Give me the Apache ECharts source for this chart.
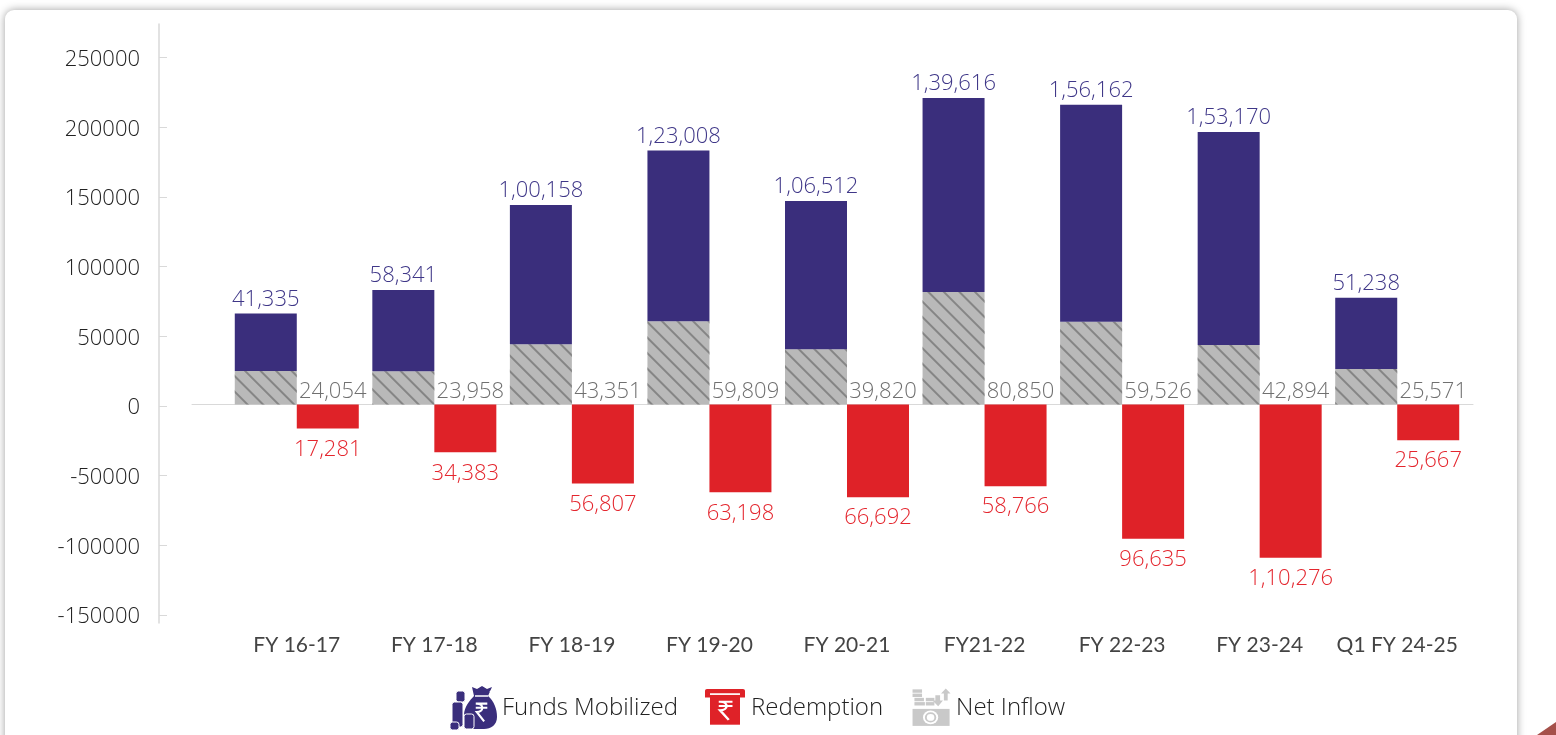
<!DOCTYPE html>
<html><head><meta charset="utf-8">
<style>
html,body{margin:0;padding:0;width:1556px;height:735px;overflow:hidden;background:#fff}
#card{position:absolute;left:5px;top:10px;width:1512px;height:800px;background:#fff;border-radius:9px;box-shadow:0 0 9px rgba(0,0,0,.38)}
#corner{position:absolute;left:1537px;top:722px;width:19px;height:13px;background:#a5504a;clip-path:polygon(100% 0,100% 100%,0 100%)}
#chart{position:absolute;left:0;top:0;width:1556px;height:735px}
</style>
<script src="https://cdn.jsdelivr.net/npm/echarts@6/dist/echarts.min.js"></script>
</head><body>
<div id="card"></div><div id="corner"></div><div id="chart"></div>
<script>
const categories=['FY 16-17','FY 17-18','FY 18-19','FY 19-20','FY 20-21','FY21-22','FY 22-23','FY 23-24','Q1 FY 24-25'];
const fundsMobilized=[41335,58341,100158,123008,106512,139616,156162,153170,51238];
const redemption=[-17281,-34383,-56807,-63198,-66692,-58766,-96635,-110276,-25667];
const netInflow=[24054,23958,43351,59809,39820,80850,59526,42894,25571];
const yTicks=[-150000,-100000,-50000,0,50000,100000,150000,200000,250000];
const legendNames=['Funds Mobilized','Redemption','Net Inflow'];

const svg=s=>'image://data:image/svg+xml,'+encodeURIComponent('<svg xmlns="http://www.w3.org/2000/svg" width="47" height="46" viewBox="0 0 47 46">'+s+'</svg>');
const P='#3a2e7c',R='#df2228',G='#c9c9c9';
const rupee=(x,y,k,c)=>`<g transform="translate(${x} ${y}) scale(${k})" fill="none" stroke="${c}" stroke-width="2"><path d="M-5-8H6M-5-4H6M-4-8C3-8 3 0-4 0L3 9"/></g>`;
const iconFunds=svg(`<path fill="${P}" d="M22 2l5 2 5-3 5 3 5-2-4 9c6 5 9 13 9 21 0 8-6 12-13 12H20L14 30c0-8 6-15 10-19z"/><path d="M25 11h13M40 6l4 5" stroke="#fff" stroke-width="1.3"/>`+
 rupee(31,27,1.05,'#fff')+
 `<g fill="${P}" stroke="#fff" stroke-width="1"><rect x="6" y="6" width="9" height="11" rx="2.5"/><rect x="2" y="17" width="11" height="25" rx="2.5"/><rect x="14" y="29" width="10" height="15" rx="2.5"/><rect x="0" y="37" width="9" height="8" rx="2.5"/></g>`);
const iconRedemption=svg(`<g transform="translate(5 2.3) scale(1 .85)"><path fill="${R}" d="M3 2h36q2 0 2 2v8h-5V8H6v4H1V4q0-2 2-2z"/><rect x="6" y="8" width="30" height="36" fill="${R}"/><rect x="6" y="7" width="30" height="2" fill="#fff"/>`+rupee(21,27,1.25,'#fff')+`</g>`);
const iconNet=svg(`<g transform="translate(7.5 3.5) scale(.95 .85)"><g fill="${G}"><rect x="1" y="1" width="10" height="4"/><rect x="1" y="6" width="10" height="4"/><rect x="3" y="11" width="10" height="4"/><rect x="3" y="16" width="11" height="4"/><rect x="15" y="11" width="9" height="4"/><rect x="15" y="16" width="9" height="4"/><rect x="1" y="24" width="39" height="20"/><path d="M25 8h5v6h3l-5 7-6-7h3zM31 6l5-6 5 6h-3v8h-4V6z"/></g><ellipse cx="20" cy="34" rx="8" ry="8" fill="#fff"/><circle cx="20" cy="34" r="5" fill="none" stroke="${G}" stroke-width="2"/></g>`);

function inr(v){
  const s=String(Math.abs(v));
  if(s.length<=3)return s;
  const tail=s.slice(-3);
  const head=s.slice(0,-3).replace(/\B(?=(\d{2})+$)/g,',');
  return head+','+tail;
}
const labelFont='"Open Sans"';
const tickAxisMin=-155800, tickAxisMax=274200;
const barAxisMin=-157194, barAxisMax=273741;
const chart=echarts.init(document.getElementById('chart'));
chart.setOption({
  animation:false,
  backgroundColor:'transparent',
  legend:{
    left:445,top:680,itemWidth:47,itemHeight:46,itemGap:21,
    textStyle:{fontFamily:labelFont,fontWeight:300,fontSize:24,color:'#222'},
    data:[{name:legendNames[0],icon:iconFunds},{name:legendNames[1],icon:iconRedemption},{name:legendNames[2],icon:iconNet}]
  },
  grid:[
    {left:228,width:1238,top:24,height:599},
    {left:192,width:1281,top:24,height:599}
  ],
  xAxis:[
    {type:'category',data:categories,gridIndex:0,
     axisLine:{show:false,onZero:false},axisTick:{show:false},
     axisLabel:{fontFamily:'Lato',fontSize:21,color:'#444',margin:12,interval:0}},
    {type:'category',data:categories,gridIndex:1,
     axisLine:{show:true,onZero:true,lineStyle:{color:'#d9d9d9',width:1}},axisTick:{show:false},axisLabel:{show:false}}
  ],
  yAxis:[
    {type:'value',gridIndex:0,min:tickAxisMin,max:tickAxisMax,position:'left',offset:69,
     splitLine:{show:false},
     axisLine:{show:true,onZero:false,lineStyle:{color:'#d9d9d9',width:1.5}},
     axisTick:{show:true,inside:true,length:8,customValues:yTicks,lineStyle:{color:'#d9d9d9',width:1}},
     axisLabel:{customValues:yTicks,fontFamily:labelFont,fontWeight:300,fontSize:22,color:'#222',margin:19,verticalAlign:'top',lineHeight:4,showMinLabel:true,showMaxLabel:true,formatter:v=>String(v)}},
    {type:'value',gridIndex:1,min:barAxisMin,max:barAxisMax,show:false},
    {type:'value',gridIndex:0,min:barAxisMin,max:barAxisMax,show:false}
  ],
  series:[
    {name:'Net Inflow',type:'bar',yAxisIndex:2,stack:'pos',barWidth:62,barGap:'0%',data:netInflow,z:3,
     itemStyle:{color:'#b9b9b9',decal:{symbol:'rect',color:'#858585',dashArrayX:[1,0],dashArrayY:[2,9],rotation:Math.PI/4,symbolSize:1}},
     label:{show:true,position:'insideBottom',distance:2,offset:[67,0],fontFamily:labelFont,fontWeight:300,fontSize:22,color:'#707070',formatter:p=>inr(p.value)}},
    {name:'Funds Mobilized',type:'bar',yAxisIndex:2,stack:'pos',barWidth:62,barGap:'0%',data:fundsMobilized,z:3,
     itemStyle:{color:P},
     label:{show:true,position:'top',distance:3,fontFamily:labelFont,fontWeight:300,fontSize:22,color:'#3f3788',formatter:p=>inr(p.value)}},
    {name:'Redemption',type:'bar',yAxisIndex:2,stack:'neg',barWidth:62,barGap:'0%',data:redemption,z:3,
     itemStyle:{color:R},
     label:{show:true,position:'bottom',distance:10,fontFamily:labelFont,fontWeight:300,fontSize:22,color:'#e4262e',formatter:p=>inr(p.value)}}
  ]
});
</script>
</body></html>
